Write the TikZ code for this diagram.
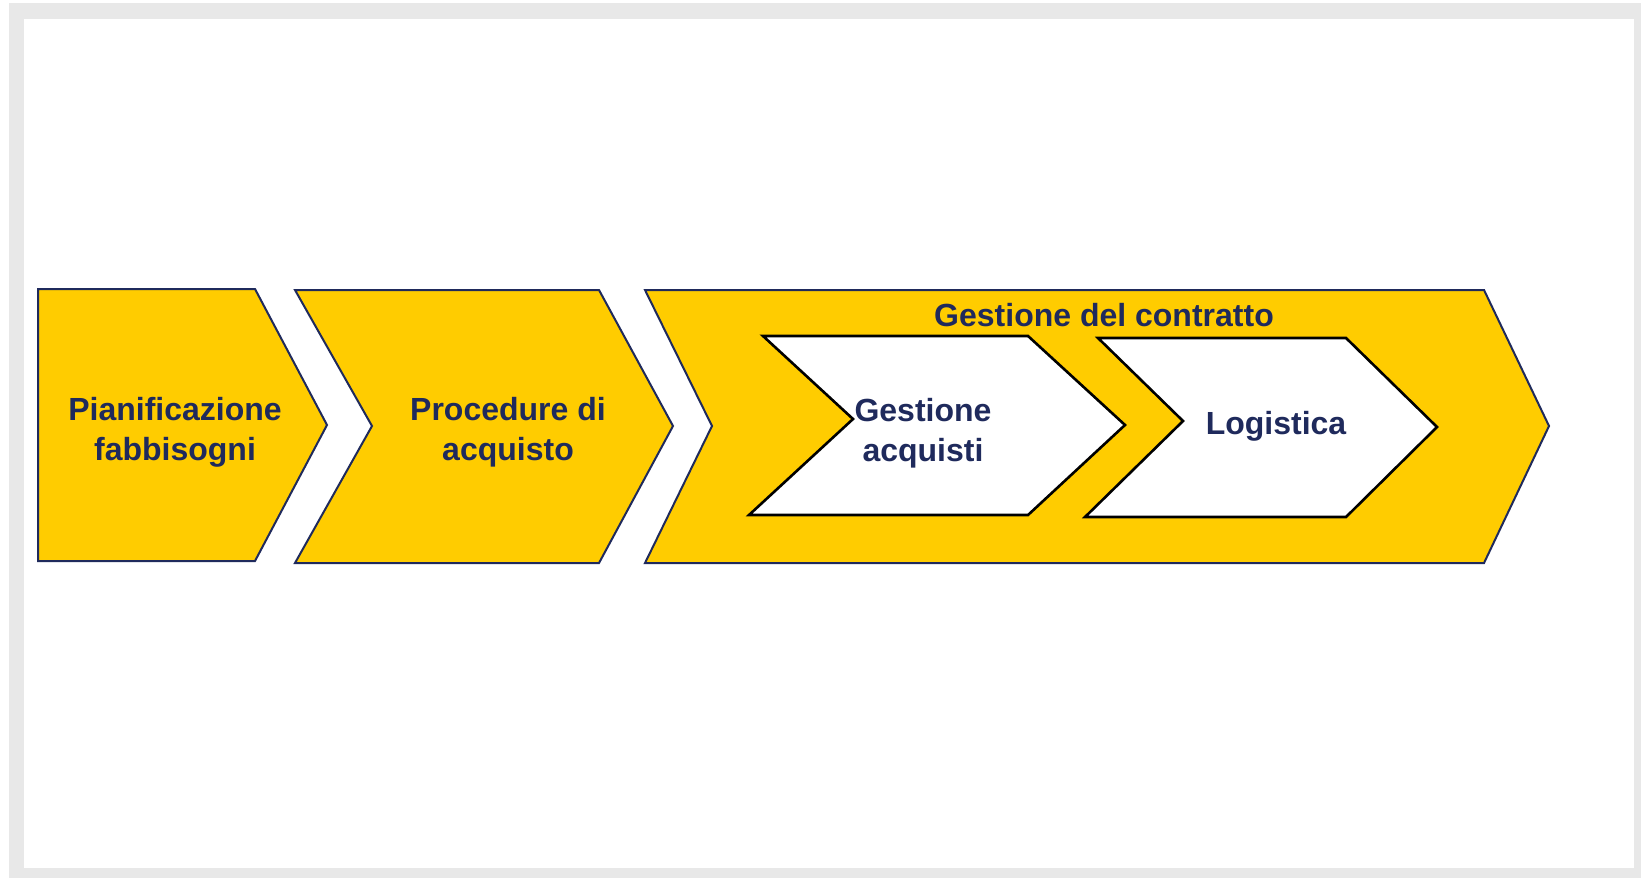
\documentclass[tikz,border=0pt]{standalone}
\usepackage{fontspec}
\setmainfont{Liberation Sans}
\usetikzlibrary{positioning}
\definecolor{navy}{HTML}{1F2A5C}
\definecolor{gold}{HTML}{FFCC00}
\definecolor{frame}{HTML}{E8E8E8}
\tikzset{
stage/.style = {draw=navy, fill=gold, line width=1pt, line join=miter},
substage/.style = {draw=black, fill=white, line width=1.3pt, line join=miter},
label/.style = {text=navy, align=center, font=\fontsize{16}{20}\selectfont\bfseries, inner sep=0pt}
}
\begin{document}
\begin{tikzpicture}[x=0.5pt, y=-0.5pt]
  \useasboundingbox (0,0) rectangle (1641,878);
  % frame
  \fill [frame] (9,3) rectangle (1641,878);
  \fill [white] (24,19) rectangle (1634,868);

  % main stages
  \draw [stage] (38,289) -- (255,289) -- (327,425) -- (255,561) -- (38,561) -- cycle;
  \draw [stage] (295,290) -- (599,290) -- (673,426) -- (599,563) -- (295,563) -- (372,426) -- cycle;
  \draw [stage] (645,290) -- (1484,290) -- (1549,426) -- (1484,563) -- (645,563) -- (712,426) -- cycle;

  % sub stages
  \draw [substage] (763,336) -- (1028,336) -- (1125,425) -- (1028,515) -- (749,515) -- (853,419) -- cycle;
  \draw [substage] (1098,338) -- (1346,338) -- (1437,427) -- (1346,517) -- (1085,517) -- (1183,421) -- cycle;

  % labels
  \node [label] (pianif)    at (175,432)  {Pianificazione\\fabbisogni};
  \node [label] (procedure) at (508,432)  {Procedure di\\acquisto};
  \node [label] (contratto) at (1104,315) {Gestione del contratto};
  \node [label] (acquisti)  at (923,433)  {Gestione\\acquisti};
  \node [label] (logistica) at (1276,426) {Logistica};
\end{tikzpicture}
\end{document}
